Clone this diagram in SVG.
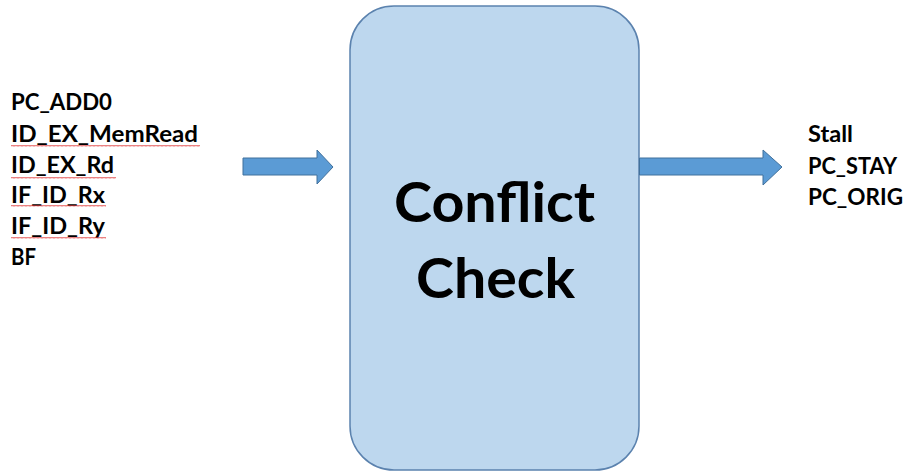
<svg xmlns="http://www.w3.org/2000/svg" width="907" height="472" viewBox="0 0 907 472">
  <style>
    .sig { font-family: Lato, "Liberation Sans", Arial, sans-serif; font-weight: bold; font-size: 22px; fill: #000; }
    .title { font-family: Lato, "Liberation Sans", Arial, sans-serif; font-weight: bold; font-size: 56px; fill: #000; text-anchor: middle; }
    .block { fill: #BDD7EE; stroke: #5B82AE; stroke-width: 1.5; }
    .arrow { fill: #5B9BD5; stroke: #41719C; stroke-width: 1; }
    .squiggle { fill: none; stroke: #E03C3C; stroke-width: 0.9; opacity: 0.8; }
  </style>
  <defs>
    <pattern id="wave" width="4" height="4" patternUnits="userSpaceOnUse">
      <path d="M0,2.5 L1,1 L2,2.5 L3,1 L4,2.5" class="squiggle"/>
    </pattern>
  </defs>
  <rect width="907" height="472" fill="#fff"/>

  <!-- input signal list -->
  <g id="inputs">
    <text class="sig" x="11" y="110" textLength="101" lengthAdjust="spacingAndGlyphs">PC_ADD0</text>
    <text class="sig" x="11" y="142" textLength="187" lengthAdjust="spacingAndGlyphs">ID_EX_MemRead</text>
    <text class="sig" x="11" y="173" textLength="103" lengthAdjust="spacingAndGlyphs">ID_EX_Rd</text>
    <text class="sig" x="11" y="203" textLength="94" lengthAdjust="spacingAndGlyphs">IF_ID_Rx</text>
    <text class="sig" x="11" y="234" textLength="94" lengthAdjust="spacingAndGlyphs">IF_ID_Ry</text>
    <text class="sig" x="11" y="265" textLength="25" lengthAdjust="spacingAndGlyphs">BF</text>
    <!-- spell-check underlines -->
    <rect x="11" y="144" width="189" height="4" fill="url(#wave)"/>
    <rect x="11" y="175" width="105" height="4" fill="url(#wave)"/>
    <rect x="11" y="205" width="95" height="4" fill="url(#wave)"/>
    <rect x="11" y="236" width="95" height="4" fill="url(#wave)"/>
  </g>

  <!-- central block -->
  <g id="conflict-check">
    <rect class="block" x="350" y="6" width="289" height="464" rx="44" ry="44"/>
    <text class="title" x="494.5" y="222" textLength="201" lengthAdjust="spacingAndGlyphs">Conflict</text>
    <text class="title" x="495.5" y="298" textLength="159" lengthAdjust="spacingAndGlyphs">Check</text>
  </g>

  <!-- output signal list -->
  <g id="outputs">
    <text class="sig" x="808" y="142" textLength="45" lengthAdjust="spacingAndGlyphs">Stall</text>
    <text class="sig" x="808" y="174" textLength="89" lengthAdjust="spacingAndGlyphs">PC_STAY</text>
    <text class="sig" x="808" y="205" textLength="95" lengthAdjust="spacingAndGlyphs">PC_ORIG</text>
  </g>

  <!-- connectors -->
  <g id="connectors">
    <path class="arrow" d="M243,158 L317,158 L317,150 L333,167 L317,184 L317,175 L243,175 Z"/>
    <path class="arrow" d="M639.5,158 L763,158 L763,150 L782,167 L763,185 L763,175 L639.5,175 Z"/>
  </g>
</svg>
